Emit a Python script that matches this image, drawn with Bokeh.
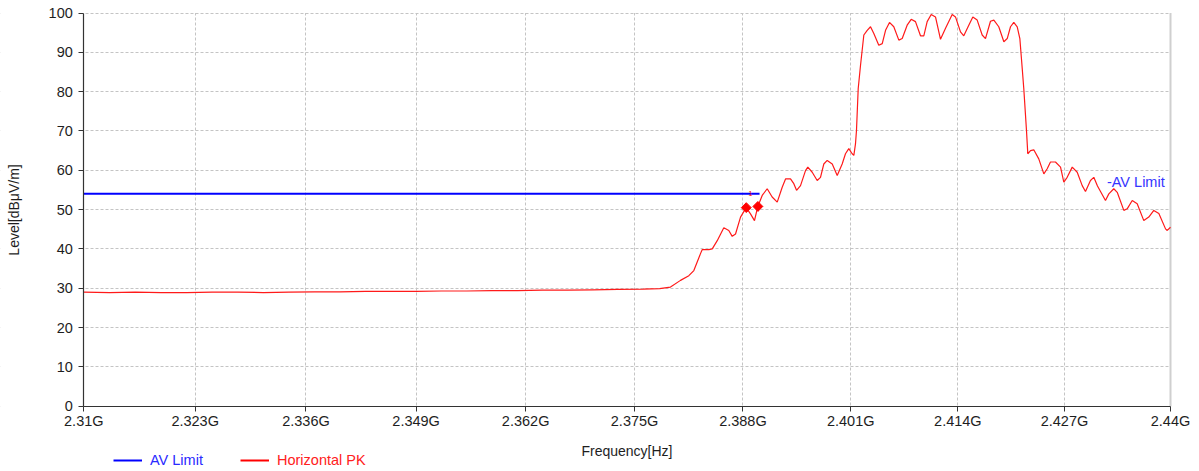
import math
from bokeh.plotting import figure
from bokeh.models import FixedTicker, Label, Legend, LegendItem, BoxAnnotation
from bokeh.embed import file_html
from bokeh.resources import INLINE

# ---- data (frequency in GHz, level in dBuV/m) ----
floor_freq = [2.3100, 2.3130, 2.3160, 2.3190, 2.3220, 2.3250, 2.3280, 2.3310, 2.3340, 2.3370,
              2.3400, 2.3430, 2.3460, 2.3490, 2.3520, 2.3550, 2.3580, 2.3610, 2.3640, 2.3670,
              2.3700, 2.3730, 2.3760, 2.3780]
floor_level = [29.0, 28.9, 29.0, 28.9, 28.9, 29.0, 29.0, 28.9, 29.0, 29.1,
               29.1, 29.2, 29.2, 29.2, 29.3, 29.3, 29.4, 29.4, 29.5, 29.5,
               29.6, 29.7, 29.8, 29.9]

band_freq = [2.37930, 2.38050, 2.38150, 2.38210, 2.38290, 2.38310, 2.38390, 2.38431, 2.38491, 2.38570,
             2.38630, 2.38671, 2.38711, 2.38771, 2.38839, 2.38891, 2.38939, 2.38979, 2.39032, 2.39092,
             2.39152, 2.39213, 2.39273, 2.39313, 2.39373, 2.39413, 2.39446, 2.39494, 2.39554, 2.39582,
             2.39635, 2.39695, 2.39735, 2.39775, 2.39816, 2.39877, 2.39937, 2.39997, 2.40037, 2.40077,
             2.40118, 2.40138, 2.40158, 2.40170, 2.40191, 2.40219, 2.40259, 2.40300, 2.40340, 2.40380,
             2.40440, 2.40482, 2.40522, 2.40570, 2.40622, 2.40683, 2.40724, 2.40784, 2.40833, 2.40885,
             2.40946, 2.40986, 2.41027, 2.41076, 2.41128, 2.41189, 2.41250, 2.41331, 2.41371, 2.41432,
             2.41472, 2.41533, 2.41582, 2.41635, 2.41696, 2.41736, 2.41797, 2.41838, 2.41898, 2.41960,
             2.42001, 2.42041, 2.42081, 2.42123, 2.42155, 2.42184, 2.42203, 2.42236, 2.42252, 2.42285,
             2.42325, 2.42386, 2.42448, 2.42489, 2.42529, 2.42590, 2.42652, 2.42692, 2.42733, 2.42795,
             2.42856, 2.42917, 2.42957, 2.43018, 2.43059, 2.43104, 2.43202, 2.43243, 2.43304, 2.43346,
             2.43427, 2.43468, 2.43530, 2.43591, 2.43672, 2.43733, 2.43795, 2.43857, 2.43939, 2.43960,
             2.44000]
band_level = [30.3, 32.0, 33.2, 34.5, 38.8, 39.8, 39.8, 40.0, 42.1, 45.4,
              44.7, 43.2, 43.8, 48.1, 50.5, 48.9, 47.2, 50.8, 53.6, 55.3,
              53.2, 51.9, 55.7, 57.8, 57.8, 56.6, 54.9, 56.1, 59.9, 60.8,
              59.5, 57.4, 58.2, 61.6, 62.5, 61.6, 58.7, 61.6, 64.2, 65.5,
              64.2, 63.8, 66.7, 70.1, 80.8, 86.7, 94.4, 95.6, 96.5, 94.8,
              91.8, 92.2, 95.6, 97.6, 96.5, 93.1, 93.5, 96.9, 98.4, 97.8,
              94.2, 94.2, 97.8, 99.6, 99.0, 93.3, 96.1, 99.6, 99.0, 95.2,
              94.2, 96.9, 99.0, 98.2, 94.4, 93.5, 97.9, 98.2, 96.5, 92.7,
              93.5, 96.5, 97.6, 96.5, 93.5, 85.9, 80.8, 70.1, 64.2, 65.0,
              65.2, 62.9, 59.1, 60.4, 62.1, 62.1, 60.8, 57.0, 58.2, 60.8,
              59.5, 56.1, 54.6, 57.4, 58.2, 56.0, 52.3, 54.0, 55.3, 54.4,
              49.8, 50.2, 52.3, 51.5, 47.2, 48.1, 49.8, 49.0, 45.1, 44.7,
              45.5]

limit_freq = [2.31, 2.39]
limit_level = [54.0, 54.0]

marker_freq = [2.3884, 2.3898]
marker_level = [50.5, 50.8]

x_ticks = [2.31, 2.323, 2.336, 2.349, 2.362, 2.375, 2.388, 2.401, 2.414, 2.427, 2.44]
x_tick_labels = ["2.31G", "2.323G", "2.336G", "2.349G", "2.362G", "2.375G",
                 "2.388G", "2.401G", "2.414G", "2.427G", "2.44G"]
y_ticks = [0, 10, 20, 30, 40, 50, 60, 70, 80, 90, 100]

trace_freq = floor_freq + band_freq
trace_level = floor_level + band_level

FONT = "Liberation Sans"
X0, X1 = 2.31, 2.44
Y0, Y1 = 0, 100

# ---- layout: the frame fills the canvas, the plot area sits inside it ----
W, H = 1199, 470
AREA_L, AREA_R, AREA_T, AREA_B = 83.3, 1170.0, 12.5, 405.7   # pixel edges of plot area
lx0, lx1 = math.log10(X0), math.log10(X1)
kx = (lx1 - lx0) / (AREA_R - AREA_L)
x_lo = 10 ** (lx0 - AREA_L * kx)
x_hi = 10 ** (lx1 + (W - AREA_R) * kx)
ky = (Y1 - Y0) / (AREA_B - AREA_T)
y_lo = Y0 - (H - AREA_B) * ky
y_hi = Y1 + AREA_T * ky

p = figure(width=W, height=H, x_axis_type="log",
           x_range=(x_lo, x_hi), y_range=(y_lo, y_hi),
           output_backend="svg", toolbar_location=None,
           min_border_left=0, min_border_right=0,
           min_border_top=0, min_border_bottom=0)
p.outline_line_color = None
p.background_fill_color = "white"

# grids
for g, t in ((p.xgrid, x_ticks), (p.ygrid, y_ticks)):
    g.ticker = FixedTicker(ticks=t)
    g.grid_line_color = "#c4c4c4"
    g.grid_line_dash = "3 2"
    g.grid_line_width = 1

# white masks around the plot area (grid lines stay inside it)
for kw in (dict(top=Y0), dict(bottom=Y1), dict(right=X0), dict(left=X1)):
    p.add_layout(BoxAnnotation(fill_color="white", fill_alpha=1.0,
                               line_color=None, level="underlay", **kw))

# axes, fixed at the plot area's edges
p.xaxis.ticker = FixedTicker(ticks=x_ticks)
p.xaxis.major_label_overrides = dict(zip(x_ticks, x_tick_labels))
p.xaxis.fixed_location = Y0
p.xaxis.bounds = (X0, X1)
p.yaxis.ticker = FixedTicker(ticks=y_ticks)
p.yaxis.fixed_location = X0
p.yaxis.bounds = (Y0, Y1)
for ax in (p.xaxis, p.yaxis):
    ax.axis_line_color = "#333333"
    ax.axis_line_width = 1.2
    ax.major_tick_line_color = "#333333"
    ax.major_tick_out = 5
    ax.major_tick_in = 0
    ax.minor_tick_line_color = None
    ax.major_label_text_font = FONT
    ax.major_label_text_font_size = "14.5px"
    ax.major_label_text_color = "#1e1e1e"
    ax.axis_label_text_font = FONT
    ax.axis_label_text_font_size = "14px"
    ax.axis_label_text_font_style = "normal"
    ax.axis_label_text_color = "#1e1e1e"
p.xaxis.major_label_standoff = 2
p.yaxis.major_label_standoff = 6
p.xaxis.axis_label = "Frequency[Hz]"
p.yaxis.axis_label = "Level[dBμV/m]"
p.xaxis.axis_label_standoff = 10
p.yaxis.axis_label_standoff = 23

# right border of the plot area
p.segment(x0=[X1], y0=[Y0], x1=[X1], y1=[Y1], line_color="#cfcfcf", line_width=2)

# series
lim = p.line(limit_freq, limit_level, line_color="#0000ff", line_width=2)
tr = p.line(trace_freq, trace_level, line_color="#ff1a1a", line_width=1.2)
p.scatter(marker_freq, marker_level, marker="square", angle=0.7854, size=7,
          color="#ff0000")

p.add_layout(Label(x=2.3889, y=54.2, text="1", text_color="#ff0000",
                   text_font=FONT, text_font_size="7px",
                   text_align="center", text_baseline="middle"))
p.add_layout(Label(x=2.4322, y=56.9, text="-AV Limit", text_color="#3535ff",
                   text_font=FONT, text_font_size="14.5px",
                   text_align="left", text_baseline="middle"))

# legend (two legends so each label keeps its own colour); the proxy lines
# hold a single point, so they draw nothing in the plot itself
leg_lim = p.line(limit_freq[:1], limit_level[:1], line_color="#0000ff", line_width=2)
leg_tr = p.line(trace_freq[:1], trace_level[:1], line_color="#ff0000", line_width=2)
for rend, lab, col, loc in ((leg_lim, "AV Limit", "#2a2aff", (113, 0)),
                            (leg_tr, "Horizontal PK", "#ff2020", (240, 0))):
    lg = Legend(items=[LegendItem(label=lab, renderers=[rend])], location=loc,
                orientation="horizontal", padding=0, margin=0, spacing=0,
                glyph_width=29, glyph_height=20, label_standoff=8,
                label_text_font=FONT, label_text_font_size="14.5px",
                label_text_color=col, border_line_color=None,
                background_fill_alpha=0)
    p.add_layout(lg)

open("out.html", "w").write(file_html(p, INLINE))
